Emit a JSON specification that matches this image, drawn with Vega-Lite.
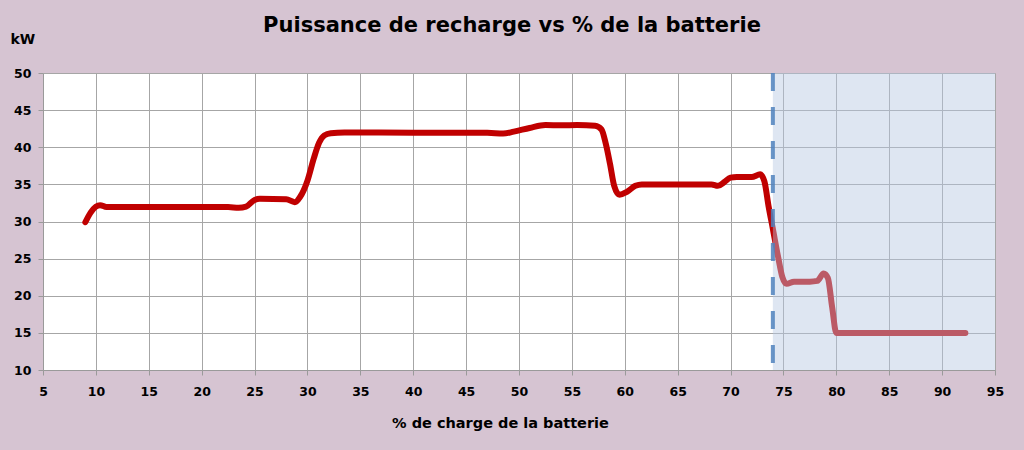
{
  "$schema": "https://vega.github.io/schema/vega-lite/v6.json",
  "width": 952,
  "height": 297,
  "autosize": {"type": "none"},
  "padding": {"left": 43, "top": 73, "right": 29, "bottom": 80},
  "background": "#d6c4d2",
  "title": {
    "text": "Puissance de recharge vs % de la batterie",
    "font": "DejaVu Sans",
    "fontSize": 21,
    "fontWeight": "bold",
    "color": "#000000",
    "anchor": "middle",
    "dx": -7,
    "dy": 8
  },
  "config": {
    "view": {"fill": "white", "stroke": null},
    "axis": {
      "labelFont": "DejaVu Sans",
      "labelFontWeight": "bold",
      "labelFontSize": 12.5,
      "labelColor": "#000000",
      "titleFont": "DejaVu Sans",
      "titleFontWeight": "bold",
      "titleColor": "#000000",
      "gridColor": "#a6a6a6",
      "gridWidth": 1,
      "domainColor": "#9a9a9a",
      "tickColor": "#9a9a9a",
      "tickSize": 5,
      "labelOverlap": false,
      "labelFlush": false
    }
  },
  "data": {
    "values": [
      {"charge": 9.0, "kW": 29.9},
      {"charge": 9.5, "kW": 31.2},
      {"charge": 10.0, "kW": 32.0},
      {"charge": 10.4, "kW": 32.2},
      {"charge": 11.0, "kW": 31.95},
      {"charge": 15.0, "kW": 31.95},
      {"charge": 20.0, "kW": 31.95},
      {"charge": 22.5, "kW": 31.95},
      {"charge": 23.5, "kW": 31.85},
      {"charge": 24.2, "kW": 32.0},
      {"charge": 25.0, "kW": 32.9},
      {"charge": 25.5, "kW": 33.05},
      {"charge": 28.0, "kW": 33.0},
      {"charge": 28.8, "kW": 32.6},
      {"charge": 29.3, "kW": 33.3},
      {"charge": 30.0, "kW": 35.5},
      {"charge": 30.6, "kW": 38.5},
      {"charge": 31.1, "kW": 40.6},
      {"charge": 31.6, "kW": 41.6},
      {"charge": 32.2, "kW": 41.9},
      {"charge": 33.5, "kW": 42.0},
      {"charge": 40.0, "kW": 41.95},
      {"charge": 45.0, "kW": 41.95},
      {"charge": 47.0, "kW": 41.95},
      {"charge": 48.5, "kW": 41.85},
      {"charge": 49.5, "kW": 42.1},
      {"charge": 51.0, "kW": 42.6},
      {"charge": 52.5, "kW": 43.0},
      {"charge": 54.0, "kW": 42.95},
      {"charge": 55.5, "kW": 43.0},
      {"charge": 57.2, "kW": 42.9},
      {"charge": 57.8, "kW": 42.4},
      {"charge": 58.2, "kW": 40.5},
      {"charge": 58.6, "kW": 37.8},
      {"charge": 59.0, "kW": 34.8},
      {"charge": 59.5, "kW": 33.6},
      {"charge": 60.2, "kW": 34.0},
      {"charge": 61.0, "kW": 34.8},
      {"charge": 61.6, "kW": 35.0},
      {"charge": 65.0, "kW": 35.0},
      {"charge": 68.2, "kW": 35.0},
      {"charge": 68.8, "kW": 34.8},
      {"charge": 69.4, "kW": 35.3},
      {"charge": 70.0, "kW": 35.9},
      {"charge": 70.6, "kW": 36.0},
      {"charge": 72.0, "kW": 36.0},
      {"charge": 72.8, "kW": 36.35},
      {"charge": 73.2, "kW": 35.4},
      {"charge": 73.6, "kW": 32.0},
      {"charge": 74.0, "kW": 29.0},
      {"charge": 74.5, "kW": 25.2},
      {"charge": 74.9, "kW": 22.5},
      {"charge": 75.3, "kW": 21.6},
      {"charge": 76.0, "kW": 21.9},
      {"charge": 77.5, "kW": 21.9},
      {"charge": 78.2, "kW": 22.0},
      {"charge": 78.8, "kW": 23.0},
      {"charge": 79.2, "kW": 22.4},
      {"charge": 79.6, "kW": 18.5},
      {"charge": 80.0, "kW": 15.0},
      {"charge": 80.5, "kW": 15.0},
      {"charge": 85.0, "kW": 15.0},
      {"charge": 92.2, "kW": 15.0}
    ]
  },
  "layer": [
    {
      "mark": {"type": "line", "color": "#c00000", "strokeWidth": 6, "interpolate": "monotone", "strokeCap": "round", "strokeJoin": "round"},
      "encoding": {
        "x": {
          "field": "charge",
          "type": "quantitative",
          "scale": {"domain": [5, 95], "nice": false, "zero": false},
          "axis": {
            "values": [5, 10, 15, 20, 25, 30, 35, 40, 45, 50, 55, 60, 65, 70, 75, 80, 85, 90, 95],
            "title": "% de charge de la batterie",
            "titleFontSize": 14.5,
            "titleX": 457,
            "titleY": 57,
            "titleAlign": "center",
            "titleBaseline": "alphabetic",
            "labelPadding": 10
          }
        },
        "y": {
          "field": "kW",
          "type": "quantitative",
          "scale": {"domain": [10, 50], "nice": false, "zero": false},
          "axis": {
            "values": [10, 15, 20, 25, 30, 35, 40, 45, 50],
            "title": "kW",
            "titleFontSize": 14,
            "titleAngle": 0,
            "titleX": -33,
            "titleY": -30,
            "titleAlign": "left",
            "titleBaseline": "alphabetic",
            "labelPadding": 7
          }
        }
      }
    },
    {
      "data": {"values": [{}]},
      "mark": {"type": "rect", "color": "#b6c8e3", "opacity": 0.45},
      "encoding": {"x": {"datum": 74}, "x2": {"datum": 95}}
    },
    {
      "data": {"values": [{}]},
      "mark": {"type": "rule", "color": "#4f81bd", "strokeWidth": 4, "strokeDash": [18, 16], "opacity": 0.85},
      "encoding": {"x": {"datum": 74}}
    }
  ]
}
